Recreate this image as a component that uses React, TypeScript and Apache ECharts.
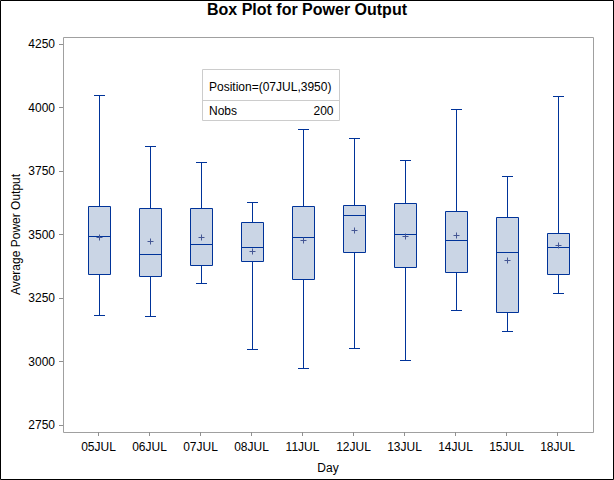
import React, { useEffect, useRef } from "react";
import * as echarts from "echarts";

const days = ["05JUL", "06JUL", "07JUL", "08JUL", "11JUL", "12JUL", "13JUL", "14JUL", "15JUL", "18JUL"];
const whiskerLow = [3184, 3180, 3308, 3048, 2973, 3052, 3005, 3202, 3119, 3268];
const q1 = [3343, 3338, 3379, 3394, 3324, 3430, 3371, 3351, 3194, 3343];
const median = [3493, 3422, 3461, 3450, 3490, 3578, 3501, 3477, 3430, 3450];
const q3 = [3613, 3605, 3605, 3550, 3613, 3617, 3625, 3594, 3570, 3507];
const whiskerHigh = [4050, 3850, 3784, 3629, 3916, 3881, 3792, 3995, 3731, 4044];
const means = [3490, 3474, 3491, 3436, 3480, 3519, 3495, 3499, 3401, 3460];
const yTicks = { min: 2750, max: 4250, interval: 250 };
const insetPosition = { day: "07JUL", value: 3950 };
const insetNobs = 200;

const FONT = 'Arial, "Liberation Sans", sans-serif';
const W = 614;
const H = 480;
const G = { left: 73, right: 31, top: 44, bottom: 55 };
const OFFX = 10;
const OFFY = 7;

export default function App() {
  const ref = useRef<HTMLDivElement>(null);
  useEffect(() => {
    document.body.style.margin = "0";
    const chart = echarts.init(ref.current!, null, { renderer: "svg" });
    const data = days.map((d, i) => [i, whiskerLow[i], q1[i], median[i], q3[i], whiskerHigh[i], means[i]]);
    const stroke = "#003399";
    chart.setOption({
      animation: false,
      backgroundColor: "#fff",
      title: {
        text: "Box Plot for Power Output",
        left: "center",
        top: -4,
        textStyle: { fontFamily: FONT, fontSize: 16, fontWeight: "bold", color: "#000" },
      },
      grid: { left: G.left, right: G.right, top: G.top, bottom: G.bottom, containLabel: false, outerBoundsMode: "none" },
      xAxis: {
        type: "category",
        data: days,
        offset: OFFY,
        axisLine: { show: false },
        axisTick: { show: true, alignWithLabel: true, length: 4, lineStyle: { color: "#909090" } },
        axisLabel: { margin: 9, fontFamily: FONT, fontSize: 12, color: "#000" },
        name: "Day",
        nameLocation: "middle",
        nameGap: 30,
        nameMoveOverlap: false,
        nameTextStyle: { fontFamily: FONT, fontSize: 12, color: "#000" },
        splitLine: { show: false },
      },
      yAxis: {
        type: "value",
        min: yTicks.min,
        max: yTicks.max,
        interval: yTicks.interval,
        offset: OFFX,
        axisLine: { show: false },
        axisTick: { show: true, length: 4, lineStyle: { color: "#909090" } },
        axisLabel: { margin: 8, fontFamily: FONT, fontSize: 12, color: "#000", formatter: (v: number) => String(v) },
        splitLine: { show: false },
        name: "Average Power Output",
        nameLocation: "middle",
        nameRotate: 90,
        nameGap: 41,
        nameMoveOverlap: false,
        nameTextStyle: { fontFamily: FONT, fontSize: 12, color: "#000" },
      },
      series: [
        {
          type: "custom",
          data,
          renderItem: (params: any, api: any) => {
            const x = api.value(0);
            const pLow = api.coord([x, api.value(1)]);
            const pQ1 = api.coord([x, api.value(2)]);
            const pMed = api.coord([x, api.value(3)]);
            const pQ3 = api.coord([x, api.value(4)]);
            const pHigh = api.coord([x, api.value(5)]);
            const pMean = api.coord([x, api.value(6)]);
            const band = api.size([1, 0])[0];
            const cx = Math.round(pMed[0]) + 0.5;
            const hw = Math.round(band * 0.21);
            const cw = 5.5;
            const ls = { stroke, lineWidth: 1, fill: "none" };
            const r = (v: number) => Math.round(v) + 0.5;
            return {
              type: "group",
              children: [
                { type: "line", shape: { x1: cx, y1: r(pLow[1]), x2: cx, y2: r(pQ1[1]) }, style: ls },
                { type: "line", shape: { x1: cx, y1: r(pQ3[1]), x2: cx, y2: r(pHigh[1]) }, style: ls },
                { type: "line", shape: { x1: cx - cw, y1: r(pLow[1]), x2: cx + cw, y2: r(pLow[1]) }, style: ls },
                { type: "line", shape: { x1: cx - cw, y1: r(pHigh[1]), x2: cx + cw, y2: r(pHigh[1]) }, style: ls },
                {
                  type: "rect",
                  shape: { x: cx - hw, y: r(pQ3[1]), width: hw * 2, height: r(pQ1[1]) - r(pQ3[1]) },
                  style: { fill: "#CAD5E5", stroke, lineWidth: 1 },
                },
                { type: "line", shape: { x1: cx - hw, y1: r(pMed[1]), x2: cx + hw, y2: r(pMed[1]) }, style: ls },
                { type: "line", shape: { x1: cx - 3, y1: r(pMean[1]), x2: cx + 3, y2: r(pMean[1]) }, style: { stroke: "#445694", lineWidth: 1 } },
                { type: "line", shape: { x1: cx, y1: r(pMean[1]) - 3, x2: cx, y2: r(pMean[1]) + 3 }, style: { stroke: "#445694", lineWidth: 1 } },
              ],
            };
          },
        },
      ],
    });

    const gl = G.left - OFFX;
    const gt = G.top - OFFY;
    const gr = W - G.right + OFFX;
    const gb = H - G.bottom + OFFY;
    const p = chart.convertToPixel({ gridIndex: 0 }, [days.indexOf(insetPosition.day), insetPosition.value]) as number[];
    const ix = Math.round(p[0]) + 1.5;
    const ib = Math.round(p[1]) + 0.5;
    const iw = 137;
    const ih = 51;
    const rowH = 20;
    chart.setOption({
      graphic: [
        { type: "rect", silent: true, shape: { x: 0.5, y: 0.5, width: W - 1, height: H - 1 }, style: { fill: "none", stroke: "#000", lineWidth: 1 } },
        { type: "rect", silent: true, shape: { x: gl + 0.5, y: gt + 0.5, width: gr - gl, height: gb - gt }, style: { fill: "none", stroke: "#A0A0A0", lineWidth: 1 } },
        { type: "rect", silent: true, shape: { x: ix, y: ib - ih, width: iw, height: ih }, style: { fill: "#fff", stroke: "#CCCCCC", lineWidth: 1 } },
        { type: "line", silent: true, shape: { x1: ix, y1: ib - rowH, x2: ix + iw, y2: ib - rowH }, style: { stroke: "#CCCCCC", lineWidth: 1 } },
        {
          type: "text",
          silent: true,
          x: ix + 6.5,
          y: ib - rowH - 14,
          style: { text: `Position=(${insetPosition.day},${insetPosition.value})`, font: `12px ${FONT}`, fill: "#000", verticalAlign: "middle", align: "left" },
        },
        {
          type: "text",
          silent: true,
          x: ix + 6.5,
          y: ib - rowH / 2,
          style: { text: "Nobs", font: `12px ${FONT}`, fill: "#000", verticalAlign: "middle", align: "left" },
        },
        {
          type: "text",
          silent: true,
          x: ix + iw - 6,
          y: ib - rowH / 2,
          style: { text: String(insetNobs), font: `12px ${FONT}`, fill: "#000", verticalAlign: "middle", align: "right" },
        },
      ],
    });
    return () => chart.dispose();
  }, []);
  return <div ref={ref} style={{ position: "fixed", left: 0, top: 0, width: W, height: H }} />;
}
